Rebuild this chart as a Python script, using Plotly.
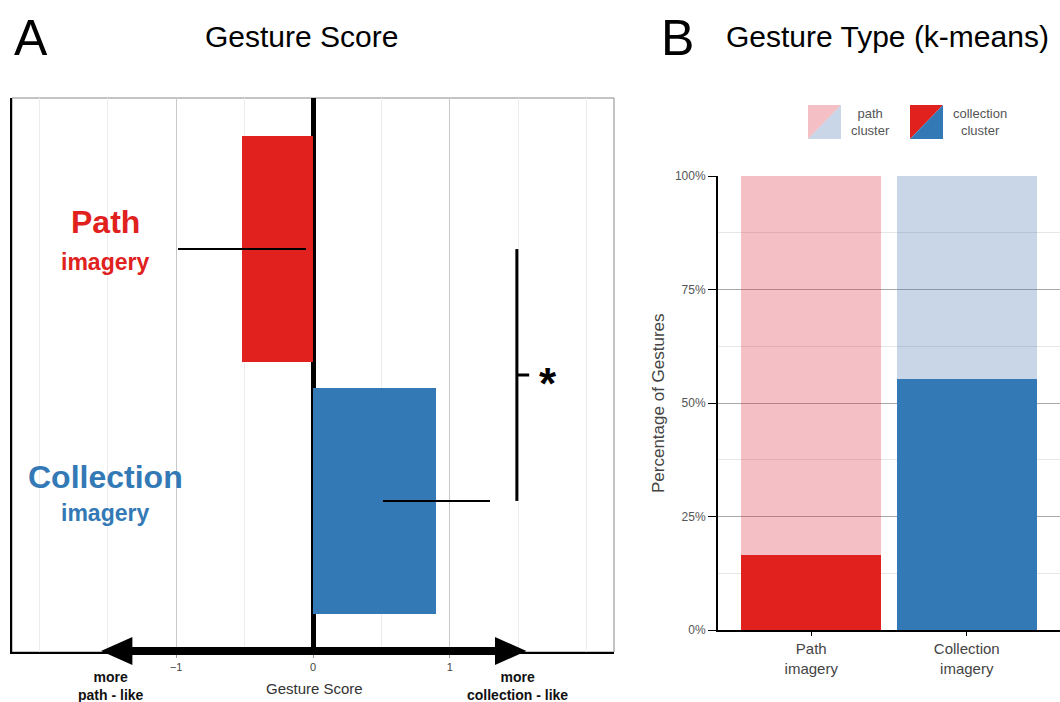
import plotly.graph_objects as go

# ---------------- data ----------------
# Panel A: gesture score (mean +/- error)
score_categories = ["Path imagery", "Collection imagery"]
score_means = [-0.52, 0.90]
score_errors = [0.47, 0.39]
score_tick_vals = [-1, 0, 1]
score_tick_text = ["\u22121", "0", "1"]

# Panel B: gesture type (k-means), stacked proportions
type_categories = ["Path<br>imagery", "Collection<br>imagery"]
collection_cluster_share = [0.165, 0.553]
path_cluster_share = [0.835, 0.447]
pct_tick_vals = [0, 0.25, 0.5, 0.75, 1.0]
pct_tick_text = ["0%", "25%", "50%", "75%", "100%"]

# ---------------- styles ----------------
RED = "#E0211D"
BLUE = "#3379B5"
LIGHT_RED = "rgba(218,45,65,0.30)"
LIGHT_BLUE = "rgba(72,118,175,0.30)"
dark_colors = [RED, BLUE]
light_colors = [LIGHT_RED, LIGHT_BLUE]
FONT = "Liberation Sans, Arial, sans-serif"

W, H = 1060, 702


def px(x):
    return x / W


def py(y):
    return 1 - y / H


fig = go.Figure()

# Panel A bars
fig.add_trace(go.Bar(
    x=score_means, y=score_categories, orientation="h",
    marker=dict(color=dark_colors, line=dict(width=0)), width=0.9,
    error_x=dict(type="data", array=score_errors, symmetric=True,
                 width=0, thickness=2.5, color="black"),
    xaxis="x", yaxis="y", showlegend=False,
))

# Panel B stacked bars
fig.add_trace(go.Bar(
    x=type_categories, y=collection_cluster_share, width=0.9,
    marker=dict(color=dark_colors, line=dict(width=0)),
    xaxis="x2", yaxis="y2", showlegend=False, name="collection cluster",
))
fig.add_trace(go.Bar(
    x=type_categories, y=path_cluster_share, width=0.9,
    marker=dict(color=light_colors, line=dict(width=0)),
    xaxis="x2", yaxis="y2", showlegend=False, name="path cluster",
))

shapes = []
annotations = []


def note(text, x, y, size, color="black", xref="paper", yref="paper", **kw):
    d = dict(text=text, xref=xref, yref=yref, x=x, y=y, showarrow=False,
             xanchor="center", yanchor="middle",
             font=dict(size=size, color=color, family=FONT))
    d.update(kw)
    annotations.append(d)


# Panel A frame (grey), drawn below
shapes.append(dict(type="rect", xref="x domain", yref="y domain", x0=0, x1=1, y0=0, y1=1,
                   line=dict(color="#8a8a8a", width=1), layer="below"))

# significance bracket
upper = [m + e for m, e in zip(score_means, score_errors)]
bx = max(upper) + 0.2
shapes.append(dict(type="line", xref="x", yref="y", x0=bx, x1=bx, y0=0, y1=1,
                   line=dict(color="black", width=3)))
shapes.append(dict(type="line", xref="x", yref="y", x0=bx, x1=bx + 0.09, y0=0.5, y1=0.5,
                   line=dict(color="black", width=3)))
note("<b>*</b>", bx + 0.23, 0.5, 44, xref="x", yref="y", yshift=-8)

# double arrow at bottom of panel A
ay = py(651)
hh = 14 / H
shapes.append(dict(type="line", xref="x", yref="paper", x0=-1.36, x1=1.37, y0=ay, y1=ay,
                   line=dict(color="black", width=8)))
shapes.append(dict(type="path", xref="x", yref="paper",
                   path=f"M -1.55,{ay} L -1.32,{ay + hh} L -1.32,{ay - hh} Z",
                   fillcolor="black", line=dict(width=0)))
shapes.append(dict(type="path", xref="x", yref="paper",
                   path=f"M 1.56,{ay} L 1.33,{ay + hh} L 1.33,{ay - hh} Z",
                   fillcolor="black", line=dict(width=0)))

# category labels panel A
label_x = -1.52
for cat, col, big, dy1, dy2 in [
    ("Path imagery", RED, "Path", 27, -13),
    ("Collection imagery", BLUE, "Collection", 24, -12),
]:
    note(f"<b>{big}</b>", label_x, cat, 32, col, xref="x", yref="y", yshift=dy1)
    note("<b>imagery</b>", label_x, cat, 23, col, xref="x", yref="y", yshift=dy2)

# panel A bottom texts
note("Gesture Score", px(314), py(688), 15, "#333")
note("<b>more<br>path - like</b>", px(111), py(686), 14, "#111")
note("<b>more<br>collection - like</b>", px(517), py(686), 14, "#111")

# Titles and panel letters
note("A", px(31), py(38), 50)
note("Gesture Score", px(301), py(36), 30)
note("B", px(677), py(38), 50)
note("Gesture Type (k-means)", px(887), py(36), 30)

# Panel B y title
note("Percentage of Gestures", px(658), py(403), 17, "#444", textangle=-90)


# Panel B legend (diagonal split squares)
def legend_square(x0, x1, y0, y1, c_tl, c_br):
    X0, X1, Y0, Y1 = px(x0), px(x1), py(y0), py(y1)
    shapes.append(dict(type="path", xref="paper", yref="paper",
                       path=f"M {X0},{Y0} L {X1},{Y0} L {X0},{Y1} Z",
                       fillcolor=c_tl, line=dict(width=0)))
    shapes.append(dict(type="path", xref="paper", yref="paper",
                       path=f"M {X1},{Y0} L {X1},{Y1} L {X0},{Y1} Z",
                       fillcolor=c_br, line=dict(width=0)))


legend_square(808, 841, 105, 139, LIGHT_RED, LIGHT_BLUE)
legend_square(910, 943, 105, 139, RED, BLUE)
note("path<br>cluster", px(870), py(122), 13, "#555")
note("collection<br>cluster", px(980), py(122), 13, "#555")

fig.update_layout(
    width=W, height=H,
    margin=dict(l=0, r=0, t=0, b=0, autoexpand=False),
    paper_bgcolor="white", plot_bgcolor="white",
    barmode="stack", bargap=0,
    font=dict(family=FONT),
    shapes=shapes, annotations=annotations,
    xaxis=dict(
        domain=[px(12), px(614)], range=[-2.2, 2.2], anchor="y", automargin=False,
        tickvals=score_tick_vals, ticktext=score_tick_text,
        tickfont=dict(size=11, color="#444"), ticks="outside", ticklen=4,
        tickcolor="#999",
        showgrid=True, gridcolor="#c8c8c8", gridwidth=1,
        minor=dict(dtick=0.5, tick0=0, showgrid=True, gridcolor="#ececec", gridwidth=1),
        zeroline=True, zerolinecolor="black", zerolinewidth=5,
        showline=True, linecolor="black", linewidth=2, fixedrange=True,
    ),
    yaxis=dict(
        domain=[py(652), py(98)], range=[1.6, -0.6], anchor="x", automargin=False,
        type="category", categoryorder="array", categoryarray=score_categories,
        showticklabels=False, ticks="", showgrid=False, zeroline=False,
        showline=True, linecolor="black", linewidth=2, fixedrange=True,
    ),
    xaxis2=dict(
        domain=[px(718), 1.0], range=[-0.6, 1.6], anchor="y2", automargin=False,
        type="category", categoryorder="array", categoryarray=type_categories,
        tickfont=dict(size=15, color="#444"), ticks="outside", ticklen=4,
        tickcolor="black", showgrid=False, zeroline=False,
        showline=True, linecolor="black", linewidth=2, fixedrange=True,
    ),
    yaxis2=dict(
        domain=[py(630), py(176)], range=[0, 1], anchor="x2", automargin=False,
        tickvals=pct_tick_vals, ticktext=pct_tick_text,
        tickfont=dict(size=12, color="#555"), ticks="outside", ticklen=8,
        tickcolor="black",
        showgrid=True, gridcolor="#a8a8a8", gridwidth=1,
        minor=dict(dtick=0.125, tick0=0, showgrid=True, gridcolor="#e6e6e6", gridwidth=1),
        zeroline=False, showline=True, linecolor="black", linewidth=2, fixedrange=True,
    ),
)

fig.write_html("out.html")
